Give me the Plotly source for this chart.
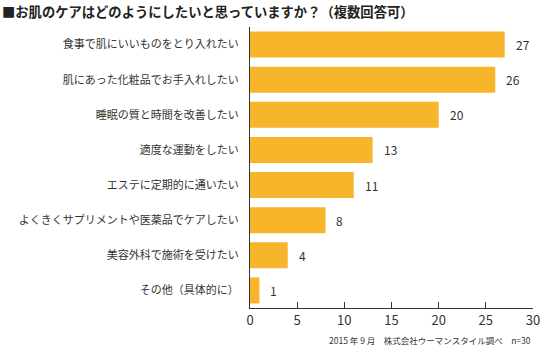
import plotly.graph_objects as go

categories = [
    "食事で肌にいいものをとり入れたい",
    "肌にあった化粧品でお手入れしたい",
    "睡眠の質と時間を改善したい",
    "適度な運動をしたい",
    "エステに定期的に通いたい",
    "よくきくサプリメントや医薬品でケアしたい",
    "美容外科で施術を受けたい",
    "その他（具体的に）",
]
values = [27, 26, 20, 13, 11, 8, 4, 1]
x_ticks = [0, 5, 10, 15, 20, 25, 30]

FONT = "Noto Sans CJK JP"
BAR = "#F7B52C"
TXT = "#333333"

fig = go.Figure()
fig.add_trace(go.Bar(
    x=values, y=categories, orientation="h",
    marker=dict(color=BAR, line=dict(width=0)),
    width=0.74,
))
for c, v in zip(categories, values):
    fig.add_annotation(x=v, y=c, text=str(v), showarrow=False,
                       xanchor="left", xshift=9,
                       font=dict(family=FONT, size=12, color=TXT))

fig.update_layout(
    width=541, height=354,
    margin=dict(l=250, r=8, t=27, b=46),
    paper_bgcolor="white", plot_bgcolor="white",
    showlegend=False,
    font=dict(family=FONT, color=TXT),
    xaxis=dict(range=[0, 30], tickvals=x_ticks, ticks="inside", ticklen=6,
               tickcolor="#333", showgrid=False, zeroline=False,
               showline=True, linecolor="#333", linewidth=1, automargin=False,
               tickfont=dict(family=FONT, size=13, color=TXT), fixedrange=True),
    yaxis=dict(categoryorder="array", categoryarray=categories,
               autorange="reversed", showgrid=False, automargin=False,
               showline=True, linecolor="#333", linewidth=1, ticks="",
               ticklabelstandoff=8,
               tickfont=dict(family=FONT, size=11, color=TXT)),
)
fig.add_annotation(xref="paper", yref="paper", x=-250/283, y=1, yshift=16,
                   xanchor="left", yanchor="middle", showarrow=False,
                   text="<b>■お肌のケアはどのようにしたいと思っていますか？（複数回答可）</b>",
                   font=dict(family=FONT, size=13.3, color="#222"))
fig.add_annotation(xref="paper", yref="paper", x=1, y=0, yshift=-32,
                   xanchor="right", yanchor="middle", showarrow=False,
                   text="2015 年 9 月　株式会社ウーマンスタイル調べ　n=30",
                   font=dict(family=FONT, size=8.5, color=TXT))
fig.write_html("out.html")
